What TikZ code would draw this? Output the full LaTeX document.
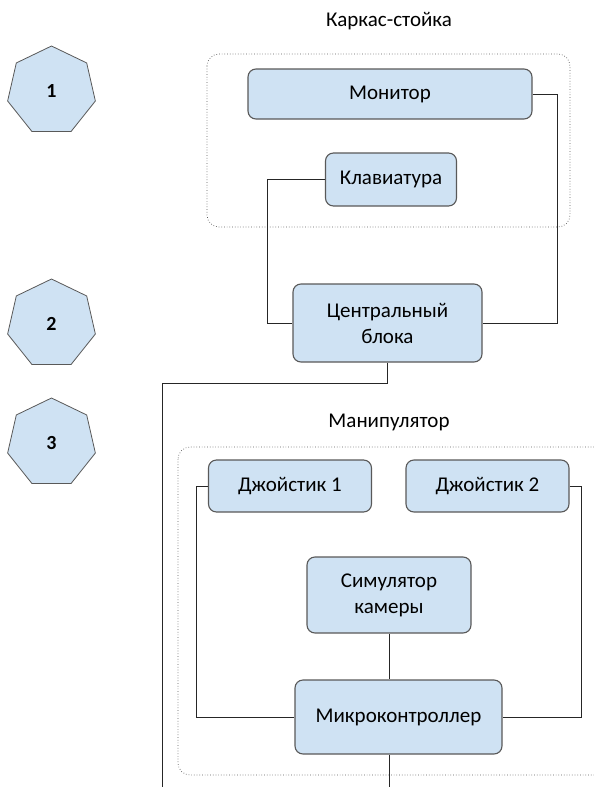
\documentclass[tikz,border=0pt]{standalone}
\usepackage{fontspec}
\setmainfont{Carlito}
\usetikzlibrary{positioning,shapes.geometric}
\definecolor{BoxBlue}{HTML}{CFE2F3}
\definecolor{BoxLine}{HTML}{595959}
\definecolor{FrameLine}{HTML}{5A5A5A}

\begin{document}
\begin{tikzpicture}[x=1pt,y=-1pt,
    block/.style={rounded corners=8pt,fill=BoxBlue,draw=BoxLine,line width=1.1pt,
      align=center,inner sep=2pt,font=\fontsize{21}{26}\selectfont},
    marker/.style={regular polygon,regular polygon sides=7,minimum size=90pt,inner sep=0pt,
      fill=BoxBlue,draw=BoxLine,line width=0.8pt,font=\fontsize{20}{22}\selectfont\bfseries},
    frame/.style={rounded corners=12pt,draw=FrameLine,dotted,line width=0.7pt},
    heading/.style={font=\fontsize{21}{24}\selectfont},
    wire/.style={draw=black!85,line width=1pt}]
  \useasboundingbox (0,0) rectangle (594,787);
  \clip (0,0) rectangle (594,787);

  % numbered markers
  \node[marker] (m1) at (51.5,91) {1};
  \node[marker] (m2) at (51.5,324) {2};
  \node[marker] (m3) at (51.5,443) {3};

  % frame and stand
  \node[heading] (t1) at (389,21) {Каркас-стойка};
  \draw[frame] (207,54) rectangle (570,227);
  \node[block,minimum width=284pt,minimum height=50pt] (monitor) at (390,94) {Монитор};
  \node[block,minimum width=131pt,minimum height=53pt] (keyboard) at (391,179.5) {Клавиатура};
  \node[block,minimum width=189pt,minimum height=78pt] (central) at (387.5,323)
    {Центральный\\блока};

  % manipulator
  \node[heading] (t2) at (389,422) {Манипулятор};
  \draw[frame] (178,447) rectangle (620,775);
  \node[block,minimum width=163pt,minimum height=52pt] (joy1) at (290,486) {Джойстик 1};
  \node[block,minimum width=163pt,minimum height=52pt] (joy2) at (487.5,486) {Джойстик 2};
  \node[block,minimum width=164pt,minimum height=76pt] (camsim) at (389,595)
    {Симулятор\\камеры};
  \node[block,minimum width=207pt,minimum height=74pt] (micro) at (398.5,717)
    {Микроконтроллер};

  \coordinate (busend) at (162,787);
  \coordinate (bottom) at (0,787);

  % connections
  \draw[wire] (keyboard.west) -- ++(-57,0) |- (central.west);
  \draw[wire] (monitor.east) -- ++(25,0) |- (central.east);
  \draw[wire] (central.south) -- ++(0,21) -| (busend);
  \draw[wire] (camsim.south) -- (camsim.south |- micro.north);
  \draw[wire] (joy1.west) -- ++(-11,0) |- (micro.west);
  \draw[wire] (joy2.east) -- ++(12,0) |- (micro.east);
  \draw[wire] (camsim.south |- micro.south) -- (camsim.south |- bottom);
\end{tikzpicture}
\end{document}
